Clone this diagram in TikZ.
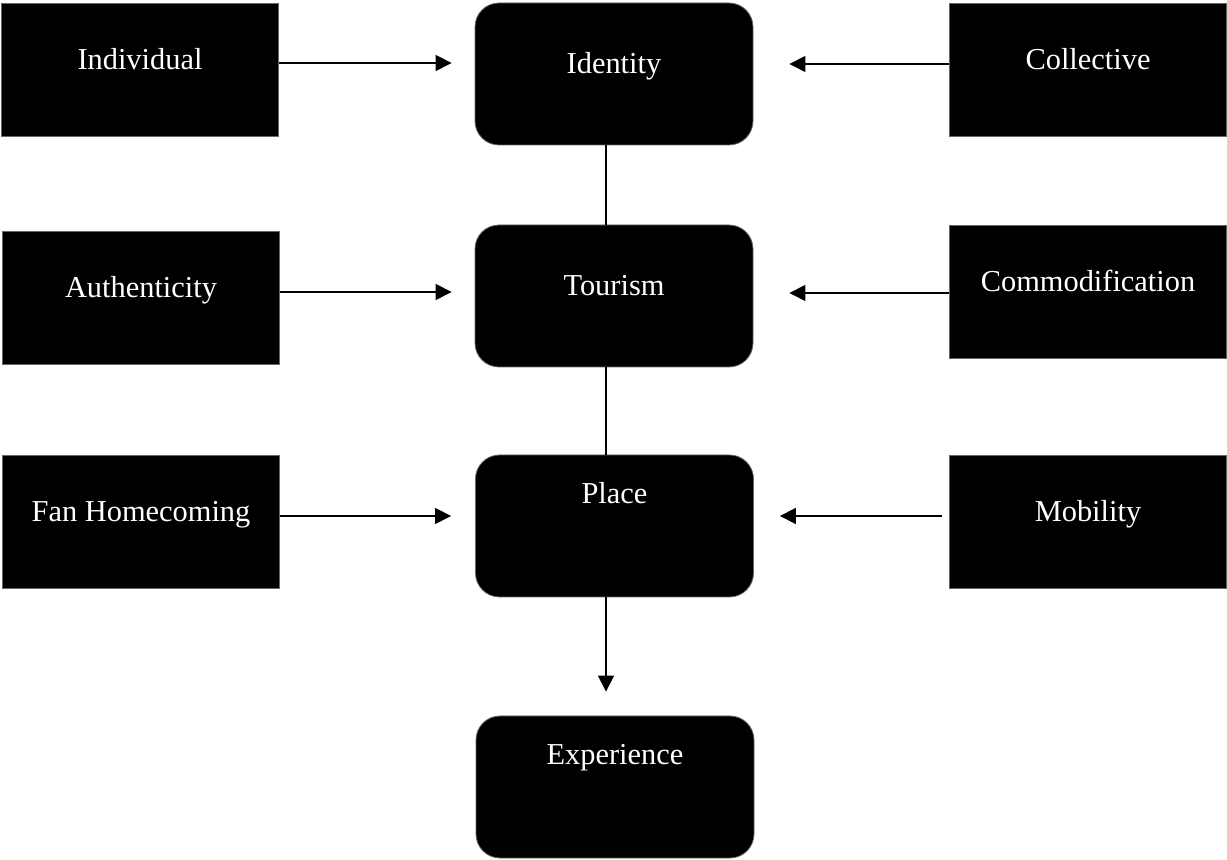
\documentclass[tikz,border=0pt]{standalone}
\usepackage{fontspec}
\setmainfont{Liberation Serif}
\usetikzlibrary{arrows.meta}

\begin{document}
\begin{tikzpicture}[x=0.5pt, y=-0.5pt,
	every node/.style={font=\fontsize{15.2}{18}\selectfont, text=white, inner sep=0pt},
	sidebox/.style={fill=black, draw=black!60, line width=0.4pt, minimum width=138.5pt, minimum height=66.5pt, text height=8pt, text depth=8pt},
	corebox/.style={fill=black, draw=black!60, line width=0.4pt, rounded corners=12pt, minimum width=139pt, minimum height=71pt, text height=8pt, text depth=8pt},
	highbox/.style={corebox, text height=4pt, text depth=26pt},
	link/.style={line width=0.6pt},
	>={Triangle[length=8pt, width=8pt]}]
	\useasboundingbox (0,0) rectangle (1227,860);
	\node[sidebox](ind) at (140, 69.5){Individual};
	\node[corebox](idt) at (614, 74){Identity};
	\node[sidebox](col) at (1088, 70){Collective};
	\node[sidebox](aut) at (141, 297.5){Authenticity};
	\node[corebox](tou) at (614, 296){Tourism};
	\node[sidebox](com) at (1088, 292){Commodification};
	\node[sidebox](fan) at (141, 522){Fan Homecoming};
	\node[highbox](pla) at (614.5, 526){Place};
	\node[sidebox](mob) at (1088, 522){Mobility};
	\node[highbox](exp) at (615, 787){Experience};
	\draw [link, ->, shorten >=11.5pt] ([yshift=3.25pt]ind.east) -- ([yshift=5.5pt]idt.west);
	\draw [link, ->, shorten >=18pt] ([yshift=3pt]col.west) -- ([yshift=5pt]idt.east);
	\draw [link, ->, shorten >=11.5pt] ([yshift=2.75pt]aut.east) -- ([yshift=2pt]tou.west);
	\draw [link, ->, shorten >=18pt] ([yshift=-0.5pt]com.west) -- ([yshift=1.5pt]tou.east);
	\draw [link, ->, shorten >=12pt] ([yshift=3pt]fan.east) -- ([yshift=5pt]pla.west);
	\draw [link, ->, shorten <=3.5pt, shorten >=13pt] ([yshift=3pt]mob.west) -- ([yshift=5pt]pla.east);
	\draw [link] ([xshift=-4pt]idt.south) -- ([xshift=-4pt]tou.north);
	\draw [link] ([xshift=-4pt]tou.south) -- ([xshift=-4.25pt]pla.north);
	\draw [link, ->, shorten >=12pt] ([xshift=-4.25pt]pla.south) -- ([xshift=-4.5pt]exp.north);
\end{tikzpicture}
\end{document}
